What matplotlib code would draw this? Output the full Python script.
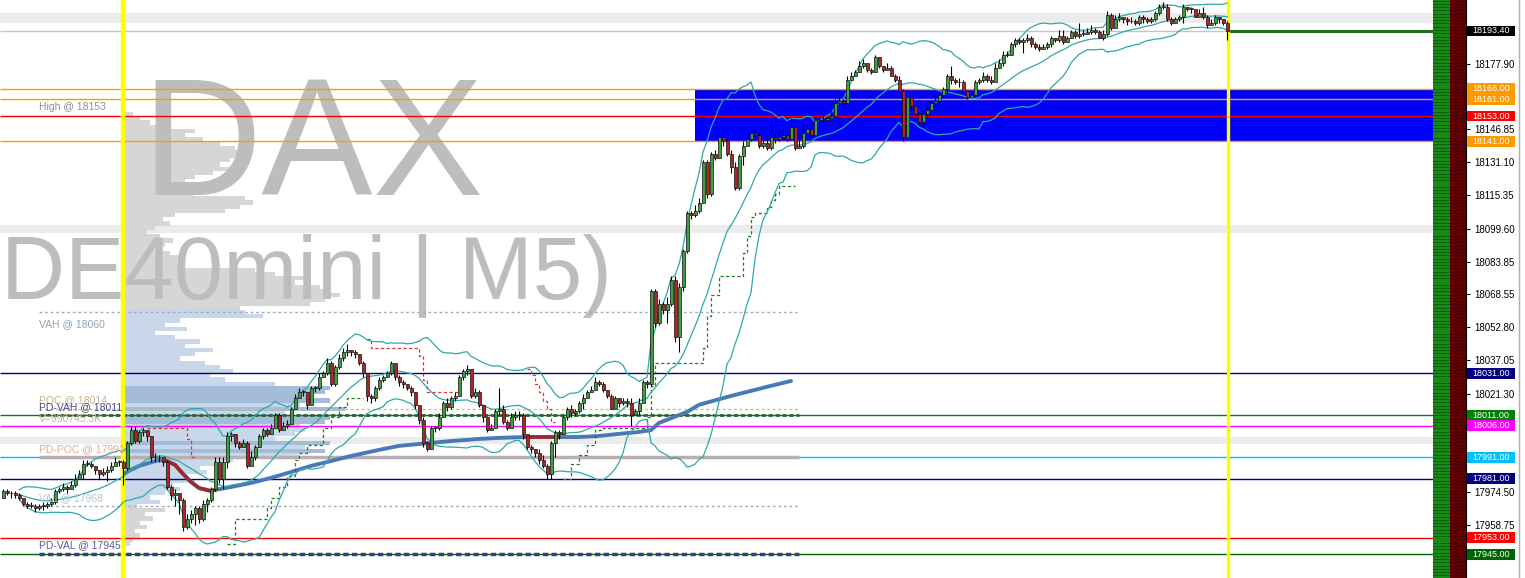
import numpy as np
import pandas as pd
import matplotlib
matplotlib.use('Agg')
import matplotlib.pyplot as plt
from matplotlib import font_manager
from matplotlib.patches import Rectangle
from matplotlib.transforms import blended_transform_factory

plt.rcParams['font.family'] = ['Liberation Sans', 'DejaVu Sans']

# ---- DE40mini M5 candles, open = previous close ----
first_open = 17972
close = [
    17975, 17974, 17974, 17973, 17972, 17969, 17968, 17968, 17967, 17968,
    17968, 17969, 17970, 17975, 17976, 17977, 17976, 17978, 17981, 17983,
    17988, 17988, 17987, 17985, 17983, 17984, 17985, 17987, 17989, 17989,
    17986, 17998, 18004, 17999, 18003, 18004, 18001, 17991, 17991, 17991,
    17989, 17977, 17973, 17974, 17971, 17958, 17962, 17964, 17967, 17962,
    17969, 17971, 17976, 17989, 17981, 17989, 18001, 18002, 17998, 17996,
    17998, 17987, 17991, 17996, 18001, 18004, 18002, 18005, 18011, 18004,
    18006, 18007, 18014, 18019, 18022, 18022, 18016, 18024, 18024, 18029,
    18031, 18036, 18026, 18034, 18038, 18041, 18042, 18041, 18040, 18036,
    18031, 18020, 18019, 18024, 18028, 18029, 18031, 18036, 18029, 18027,
    18026, 18024, 18022, 18016, 18009, 17998, 17995, 18005, 18005, 18010,
    18017, 18015, 18019, 18020, 18029, 18032, 18033, 18020, 18022, 18016,
    18010, 18004, 18005, 18013, 18014, 18008, 18005, 18010, 18011, 18011,
    18002, 17996, 17995, 17993, 17990, 17987, 17983, 17998, 18003, 18002,
    18010, 18014, 18012, 18013, 18017, 18019, 18022, 18023, 18027, 18026,
    18023, 18020, 18014, 18019, 18017, 18018, 18017, 18011, 18013, 18017,
    18027, 18026, 18070, 18055, 18064, 18061, 18064, 18075, 18048, 18072,
    18089, 18107, 18106, 18108, 18112, 18131, 18116, 18135, 18133, 18143,
    18141, 18135, 18129, 18119, 18134, 18139, 18142, 18145, 18144, 18139,
    18140, 18138, 18143, 18142, 18143, 18144, 18142, 18148, 18138, 18139,
    18145, 18147, 18144, 18151, 18151, 18151, 18152, 18153, 18159, 18160,
    18159, 18170, 18172, 18174, 18177, 18178, 18175, 18174, 18181, 18177,
    18175, 18176, 18172, 18170, 18165, 18143, 18162, 18158, 18154, 18150,
    18154, 18156, 18159, 18160, 18163, 18166, 18172, 18170, 18169, 18169,
    18165, 18162, 18163, 18169, 18170, 18172, 18170, 18169, 18176, 18178,
    18182, 18182, 18187, 18189, 18188, 18189, 18190, 18187, 18186, 18185,
    18186, 18187, 18190, 18189, 18191, 18188, 18190, 18193, 18191, 18192,
    18192, 18193, 18194, 18193, 18190, 18192, 18201, 18195, 18199, 18200,
    18199, 18198, 18198, 18197, 18200, 18199, 18198, 18199, 18202, 18205,
    18205, 18199, 18197, 18199, 18200, 18205, 18204, 18204, 18200, 18202,
    18200, 18196, 18197, 18200, 18199, 18197, 18193.4,
]
high = [
    17976, 17976, 17975, 17975, 17974, 17972, 17970, 17970, 17969, 17969,
    17970, 17970, 17972, 17976, 17977, 17979, 17978, 17980, 17983, 17985,
    17990, 17990, 17989, 17987, 17985, 17986, 17987, 17989, 17991, 17990,
    17990, 17999, 18006, 18006, 18004, 18005, 18004, 18001, 17993, 17992,
    17991, 17990, 17978, 17976, 17974, 17972, 17964, 17966, 17968, 17968,
    17971, 17972, 17977, 17991, 17991, 17991, 18003, 18003, 18002, 17999,
    18000, 17999, 17994, 17997, 18002, 18005, 18005, 18007, 18012, 18012,
    18008, 18009, 18015, 18021, 18024, 18023, 18022, 18025, 18025, 18031,
    18032, 18038, 18037, 18035, 18040, 18043, 18045, 18042, 18042, 18040,
    18037, 18030, 18021, 18025, 18029, 18030, 18032, 18037, 18036, 18030,
    18028, 18026, 18025, 18022, 18016, 18010, 17999, 18006, 18006, 18012,
    18018, 18019, 18020, 18022, 18030, 18033, 18035, 18032, 18024, 18023,
    18016, 18010, 18007, 18014, 18024, 18016, 18009, 18012, 18013, 18013,
    18012, 18002, 17997, 17995, 17995, 17992, 17988, 17999, 18004, 18004,
    18011, 18015, 18016, 18014, 18018, 18021, 18023, 18025, 18029, 18028,
    18027, 18023, 18021, 18020, 18019, 18019, 18019, 18019, 18014, 18019,
    18028, 18028, 18071, 18071, 18066, 18065, 18067, 18077, 18077, 18074,
    18090, 18108, 18108, 18111, 18114, 18132, 18132, 18136, 18137, 18144,
    18144, 18142, 18137, 18131, 18135, 18141, 18143, 18147, 18147, 18146,
    18143, 18142, 18150, 18146, 18146, 18147, 18145, 18152, 18148, 18143,
    18149, 18149, 18148, 18153, 18152, 18153, 18153, 18155, 18161, 18162,
    18161, 18172, 18174, 18175, 18179, 18180, 18177, 18176, 18182, 18181,
    18177, 18178, 18177, 18173, 18172, 18166, 18163, 18162, 18158, 18155,
    18156, 18158, 18160, 18162, 18165, 18167, 18173, 18177, 18171, 18171,
    18170, 18165, 18164, 18170, 18171, 18174, 18173, 18172, 18178, 18180,
    18184, 18184, 18188, 18190, 18190, 18190, 18192, 18191, 18188, 18187,
    18187, 18188, 18191, 18190, 18194, 18194, 18191, 18194, 18194, 18197,
    18194, 18195, 18196, 18195, 18194, 18194, 18203, 18202, 18201, 18202,
    18200, 18200, 18200, 18199, 18201, 18201, 18200, 18200, 18203, 18206,
    18207, 18206, 18200, 18200, 18201, 18206, 18205, 18205, 18204, 18204,
    18205, 18201, 18199, 18201, 18200, 18199, 18198,
]
low = [
    17972, 17973, 17972, 17972, 17971, 17968, 17967, 17967, 17965, 17966,
    17966, 17967, 17968, 17969, 17974, 17975, 17974, 17976, 17977, 17981,
    17981, 17987, 17986, 17983, 17981, 17982, 17980, 17984, 17987, 17987,
    17978, 17985, 17997, 17998, 17998, 18001, 17999, 17989, 17989, 17989,
    17987, 17976, 17971, 17968, 17964, 17956, 17957, 17960, 17959, 17960,
    17961, 17965, 17970, 17975, 17979, 17976, 17986, 17999, 17996, 17995,
    17996, 17986, 17988, 17990, 17996, 18000, 18001, 18002, 18005, 18003,
    18004, 18005, 18007, 18014, 18019, 18020, 18014, 18016, 18022, 18023,
    18029, 18030, 18025, 18025, 18033, 18037, 18039, 18039, 18038, 18035,
    18029, 18018, 18017, 18018, 18023, 18027, 18029, 18030, 18028, 18025,
    18024, 18023, 18020, 18014, 18007, 17996, 17994, 17996, 18003, 18004,
    18010, 18013, 18014, 18018, 18020, 18028, 18030, 18019, 18019, 18015,
    18008, 18003, 18004, 18005, 18011, 18007, 18004, 18005, 18009, 18009,
    18000, 17995, 17993, 17991, 17988, 17986, 17981, 17981, 17991, 18000,
    18003, 18009, 18010, 18011, 18012, 18014, 18019, 18022, 18023, 18025,
    18022, 18019, 18014, 18014, 18015, 18016, 18015, 18006, 18011, 18011,
    18017, 18024, 18025, 18053, 18054, 18059, 18055, 18063, 18046, 18041,
    18070, 18088, 18104, 18105, 18107, 18112, 18114, 18115, 18132, 18135,
    18139, 18134, 18126, 18118, 18118, 18130, 18140, 18141, 18143, 18138,
    18138, 18137, 18137, 18140, 18141, 18142, 18141, 18143, 18137, 18138,
    18138, 18145, 18143, 18144, 18149, 18150, 18151, 18152, 18153, 18158,
    18158, 18159, 18170, 18172, 18175, 18176, 18174, 18173, 18174, 18176,
    18174, 18175, 18172, 18169, 18164, 18141, 18143, 18156, 18153, 18149,
    18148, 18153, 18156, 18158, 18159, 18162, 18164, 18168, 18168, 18167,
    18164, 18161, 18162, 18162, 18168, 18169, 18169, 18168, 18169, 18176,
    18177, 18181, 18182, 18186, 18187, 18183, 18188, 18186, 18185, 18184,
    18185, 18185, 18186, 18188, 18188, 18187, 18189, 18190, 18190, 18190,
    18191, 18192, 18192, 18192, 18190, 18189, 18191, 18194, 18196, 18198,
    18197, 18196, 18197, 18196, 18196, 18197, 18197, 18197, 18198, 18201,
    18204, 18198, 18196, 18197, 18198, 18197, 18203, 18202, 18200, 18200,
    18199, 18195, 18196, 18196, 18197, 18196, 18189,
]

last_price = 18193.4
zone_low, zone_high = 18141, 18166

# horizontal levels
level_price = [18166, 18161, 18153, 18141, 18031, 18011, 18006, 17991, 17981, 17953, 17945]
level_color = ['#ff9900', '#ff9900', '#ff0000', '#ff9900', '#000080', '#008000',
               '#ff00ff', '#00bfff', '#000080', '#ff0000', '#006400']

# session volume profile, rows of 2 points from the top row down
profile_top = 18154
profile_vol = [
    8, 15, 25, 45, 70, 60, 78, 95, 110, 128, 118, 105, 95, 108, 88, 70, 60, 75, 55, 68,
    120, 128, 115, 100, 50, 38, 45, 30, 22, 35, 48, 40, 30, 45, 58, 52, 60, 130, 150, 185,
    170, 195, 205, 215, 200, 185, 115, 120, 138, 55, 40, 62, 30, 50, 75, 60, 88, 70, 55, 80,
    95, 108, 85, 100, 150, 205, 200, 185, 205, 175, 220, 160, 205, 200, 175, 180, 170, 150, 205, 180,
    200, 175, 108, 90, 75, 82, 60, 70, 48, 55, 40, 25, 35, 12, 40, 20, 28, 15, 22, 10,
    15, 8, 5,
]
day_high = 18153
vah, poc, val = 18060, 18014, 17968
pd_vah, pd_poc, pd_val = 18011, 17991, 17945
session_vol = '990745.3K'

# vwap line (candle index, price)
vwap_idx = [30.5, 34, 39, 41, 43, 45, 47, 49, 52, 53, 57, 62, 67, 72, 77, 82, 87, 94, 99,
            104, 112, 119, 124, 130.5, 139, 144, 149, 154, 159, 162, 164, 171, 174, 182,
            187, 192, 197]
vwap_val = [17983.7, 17987, 17989.8, 17989.3, 17987.5, 17983.2, 17979.4, 17976.5, 17975.1,
            17975.6, 17977, 17978.9, 17981.3, 17984.1, 17987, 17989.3, 17991.7, 17994.6,
            17996.5, 17997.4, 17998.8, 17999.8, 18000.3, 18000.7, 18000.7, 18000.7, 18001.2,
            18002.2, 18003.1, 18004, 18007.4, 18012.6, 18016, 18020.2, 18022.6, 18025, 18027.3]
vwap_below = [(41, 53), (130.5, 139)]

# trailing stop steps (candle index, price)
stop_red = [
    ([36, 46, 47, 48], [18005, 18000, 17991, 17991]),
    ([91, 92, 104, 105, 106, 114], [18047, 18043, 18039, 18028, 18022, 18022]),
    ([131, 132, 133, 134, 135, 136, 137, 138], [18033, 18030, 18026, 18022, 18018, 18014, 18008, 18008]),
]
stop_green = [
    ([56, 58, 66, 67, 69, 71, 73, 74, 76, 80, 82, 84, 86, 90],
     [17950, 17962, 17967, 17972, 17977, 17982, 17990, 17993, 17997, 18005, 18010, 18015, 18019, 18019]),
    ([140, 142, 144, 146, 148, 150, 161, 162, 163, 175, 176, 177, 179, 185, 186, 187, 188, 191, 192,
      193, 194, 198],
     [17981, 17988, 17992, 17997, 18004, 18005, 18010, 18025, 18036, 18043, 18058, 18068, 18077,
      18088, 18096, 18105, 18107, 18110, 18113, 18116, 18120, 18120]),
]

gray_bands = [(18197.2, 18201.9), (18097.5, 18101.3), (17997.4, 18000.7)]

yticks = [17943.00, 17958.75, 17974.50, 17989.80, 18005.55, 18021.30, 18037.05, 18052.80,
          18068.55, 18083.85, 18099.60, 18115.35, 18131.10, 18146.85, 18162.15, 18177.90, 18193.65]

# ---------------------------------------------------------------------------
W, H = 1525, 578
fig = plt.figure(figsize=(W / 100, H / 100), dpi=100)
ax = fig.add_axes([0, 0, 1466 / W, 1])
x_lo, x_hi = -0.75, 365.75
ax.set_xlim(x_lo, x_hi)
ax.set_ylim(17933.8, 18208.1)
col_x = 357.5  # start of the two coloured columns on the right

for a, b in gray_bands:
    ax.axhspan(a, b, color='#ececec', lw=0, zorder=0.3)

# volume profile
prof_price = profile_top - 2 * np.arange(len(profile_vol))
prof_col = []
for p, v in zip(prof_price, profile_vol):
    if val <= p <= vah:
        prof_col.append('#a3bcd8' if v >= 185 else '#c8d7e9')
    else:
        prof_col.append('#d6d6d6')
ax.barh(prof_price, np.array(profile_vol) / 4, left=30.5, height=2.0, color=prof_col, lw=0, zorder=1)

# watermark
names = {f.name for f in font_manager.fontManager.ttflist}
if 'Liberation Sans Narrow' in names:
    wm_family, dax_size, sym_size = 'Liberation Sans Narrow', 140, 70
else:
    wm_family, dax_size, sym_size = 'Liberation Sans', 120, 64
ax.text(34.5, 18115.6, 'DAX', fontsize=dax_size, family=wm_family, color='#bdbdbd',
        va='baseline', ha='left', zorder=1.1)
ax.text(-0.5, 18066.2, 'DE40mini | M5)', fontsize=sym_size, family=wm_family, color='#bdbdbd',
        va='baseline', ha='left', zorder=1.1)

# supply zone
ax.add_patch(Rectangle((173, zone_low), col_x - 173, zone_high - zone_low, color='#0000ff', lw=0, zorder=1.5))

# levels
ax.hlines(level_price, x_lo, col_x, colors=level_color, lw=1, zorder=2)
ax.hlines(last_price, x_lo, 306.25, color='#c4c4c4', lw=1, zorder=1.8)
ax.hlines(last_price, 306.25, col_x, color='#1d6e1d', lw=2.2, zorder=2.2)

# profile / previous-day lines and labels
px = 0.72  # pixels to points
ax.hlines(vah, 9, 199, colors='#9ab0c8', lw=1, linestyles=(0, (2, 2)), zorder=2.1)
ax.hlines(poc, 9, 199, colors='#d8b878', lw=1, linestyles=(0, (2, 2)), zorder=2.1)
ax.hlines(pd_vah, 9, 199, colors='#2f5f3f', lw=2, linestyles=(0, (1.5, 1)), zorder=2.1)
ax.hlines(pd_poc, 9, 199, colors='#b8b0b0', lw=2.5, zorder=2.1)
ax.hlines(val, 9, 199, colors='#a0b0c0', lw=1, linestyles=(0, (2, 2)), zorder=2.1)
ax.hlines(pd_val, 9, 199, colors='#3a3a8a', lw=2.5, linestyles=(0, (1.5, 1)), zorder=2.1)

labels = [
    (f'High @ {day_high}', day_high, 9, '#909090'),
    (f'VAH @ {vah}', vah, -12, '#8fa3b8'),
    (f'POC @ {poc}', poc, 9, '#c9b08a'),
    (f'PD-VAH @ {pd_vah}', pd_vah, 8, '#4a4a8a'),
    (f'V={session_vol}', poc, -10, '#c9b08a'),
    (f'PD-POC @ {pd_poc}', pd_poc, 8, '#e8a898'),
    (f'VAL @ {val}', val, 8, '#b8c4d0'),
    (f'PD-VAL @ {pd_val}', pd_val, 9, '#5a5aa0'),
]
for txt, lvl, off, colr in labels:
    ax.annotate(txt, (9, lvl), xytext=(0, off * px), textcoords='offset points',
                fontsize=7.5, color=colr, va='center', ha='left', zorder=5)

# session separators
ax.axvline(30, color='#ffff00', lw=3.2, zorder=2.6)
ax.axvline(306.25, color='#ffff00', lw=2.4, zorder=2.6)

# vwap
vi = np.array(vwap_idx)
vv = np.array(vwap_val)
ax.plot(vi, vv, color='#4a7ab5', lw=2.8, zorder=3, solid_capstyle='round')
for a, b in vwap_below:
    m = (vi >= a) & (vi <= b)
    ax.plot(vi[m], vv[m], color='#a0282d', lw=2.6, zorder=3.1, solid_capstyle='round')

# trailing stops
for xs, ys in stop_red:
    ax.plot(xs, ys, drawstyle='steps-post', color='#e03030', lw=0.9, ls=(0, (2.5, 2)), zorder=3.2)
for xs, ys in stop_green:
    ax.plot(xs, ys, drawstyle='steps-post', color='#1f7f1f', lw=0.9, ls=(0, (2.5, 2)), zorder=3.2)

# candles
c = np.array(close, float)
o = np.r_[first_open, c[:-1]]
h = np.maximum(np.array(high, float), np.maximum(o, c))
l = np.minimum(np.array(low, float), np.minimum(o, c))
x = np.arange(len(c))

# bollinger bands 20/2
s = pd.Series(c)
mid = s.rolling(20, min_periods=5).mean()
sd = s.rolling(20, min_periods=5).std(ddof=0)
for band in (mid, mid + 2 * sd, mid - 2 * sd):
    ax.plot(x, band, color='#2fa8a8', lw=0.9, zorder=3.5)

up = c >= o
ax.vlines(x, l, h, color='#000000', lw=0.8, zorder=4)
ax.bar(x, np.maximum(np.abs(c - o), 0.35), bottom=np.minimum(o, c), width=0.75,
       color=np.where(up, '#3f9f3f', '#b02525'), edgecolor='#111111', linewidth=0.5, zorder=4.5)

# right-hand columns
ax.axvspan(col_x, 361.75, color='#0d5e0d', lw=0, zorder=6)
ax.axvspan(361.75, x_hi, color='#4a0000', lw=0, zorder=6)
stripes = np.arange(17934, 18209, 1.55)
ax.barh(stripes, 361.75 - col_x, left=col_x, height=1.1, color='#168a16', lw=0, zorder=6.1)
ax.barh(stripes, x_hi - 361.75, left=361.75, height=1.1, color='#600000', lw=0, zorder=6.1)

# axis; tick labels that sit under a price box are left blank
box_prices = [last_price] + level_price
ax.yaxis.tick_right()
ax.set_yticks(yticks)
ax.set_yticklabels(['' if min(abs(t - b) for b in box_prices) < 4 else f'{t:.2f}' for t in yticks])
ax.tick_params(axis='y', direction='out', length=3, width=0.8, pad=3, labelsize=7, colors='black')
ax.set_xticks([])
for side in ('left', 'top', 'bottom'):
    ax.spines[side].set_visible(False)
ax.spines['right'].set_linewidth(0.8)

# price labels on the axis
tr = blended_transform_factory(ax.transAxes, ax.transData)
box_w = 48 / 1466
for v, colr in zip(box_prices, ['#000000'] + level_color):
    ax.add_patch(Rectangle((1.0006, v - 2.55), box_w, 5.1, transform=tr, fc=colr, ec='none',
                           clip_on=False, zorder=20))
    ax.text(1.0006 + box_w / 2, v, f'{v:.2f}', transform=tr, ha='center', va='center',
            color='white', fontsize=6.5, clip_on=False, zorder=21)

fig.add_artist(plt.Line2D([1519 / W, 1519 / W], [0, 1], color='#b0b0b0', lw=1))

fig.savefig('out.png', dpi=100)
